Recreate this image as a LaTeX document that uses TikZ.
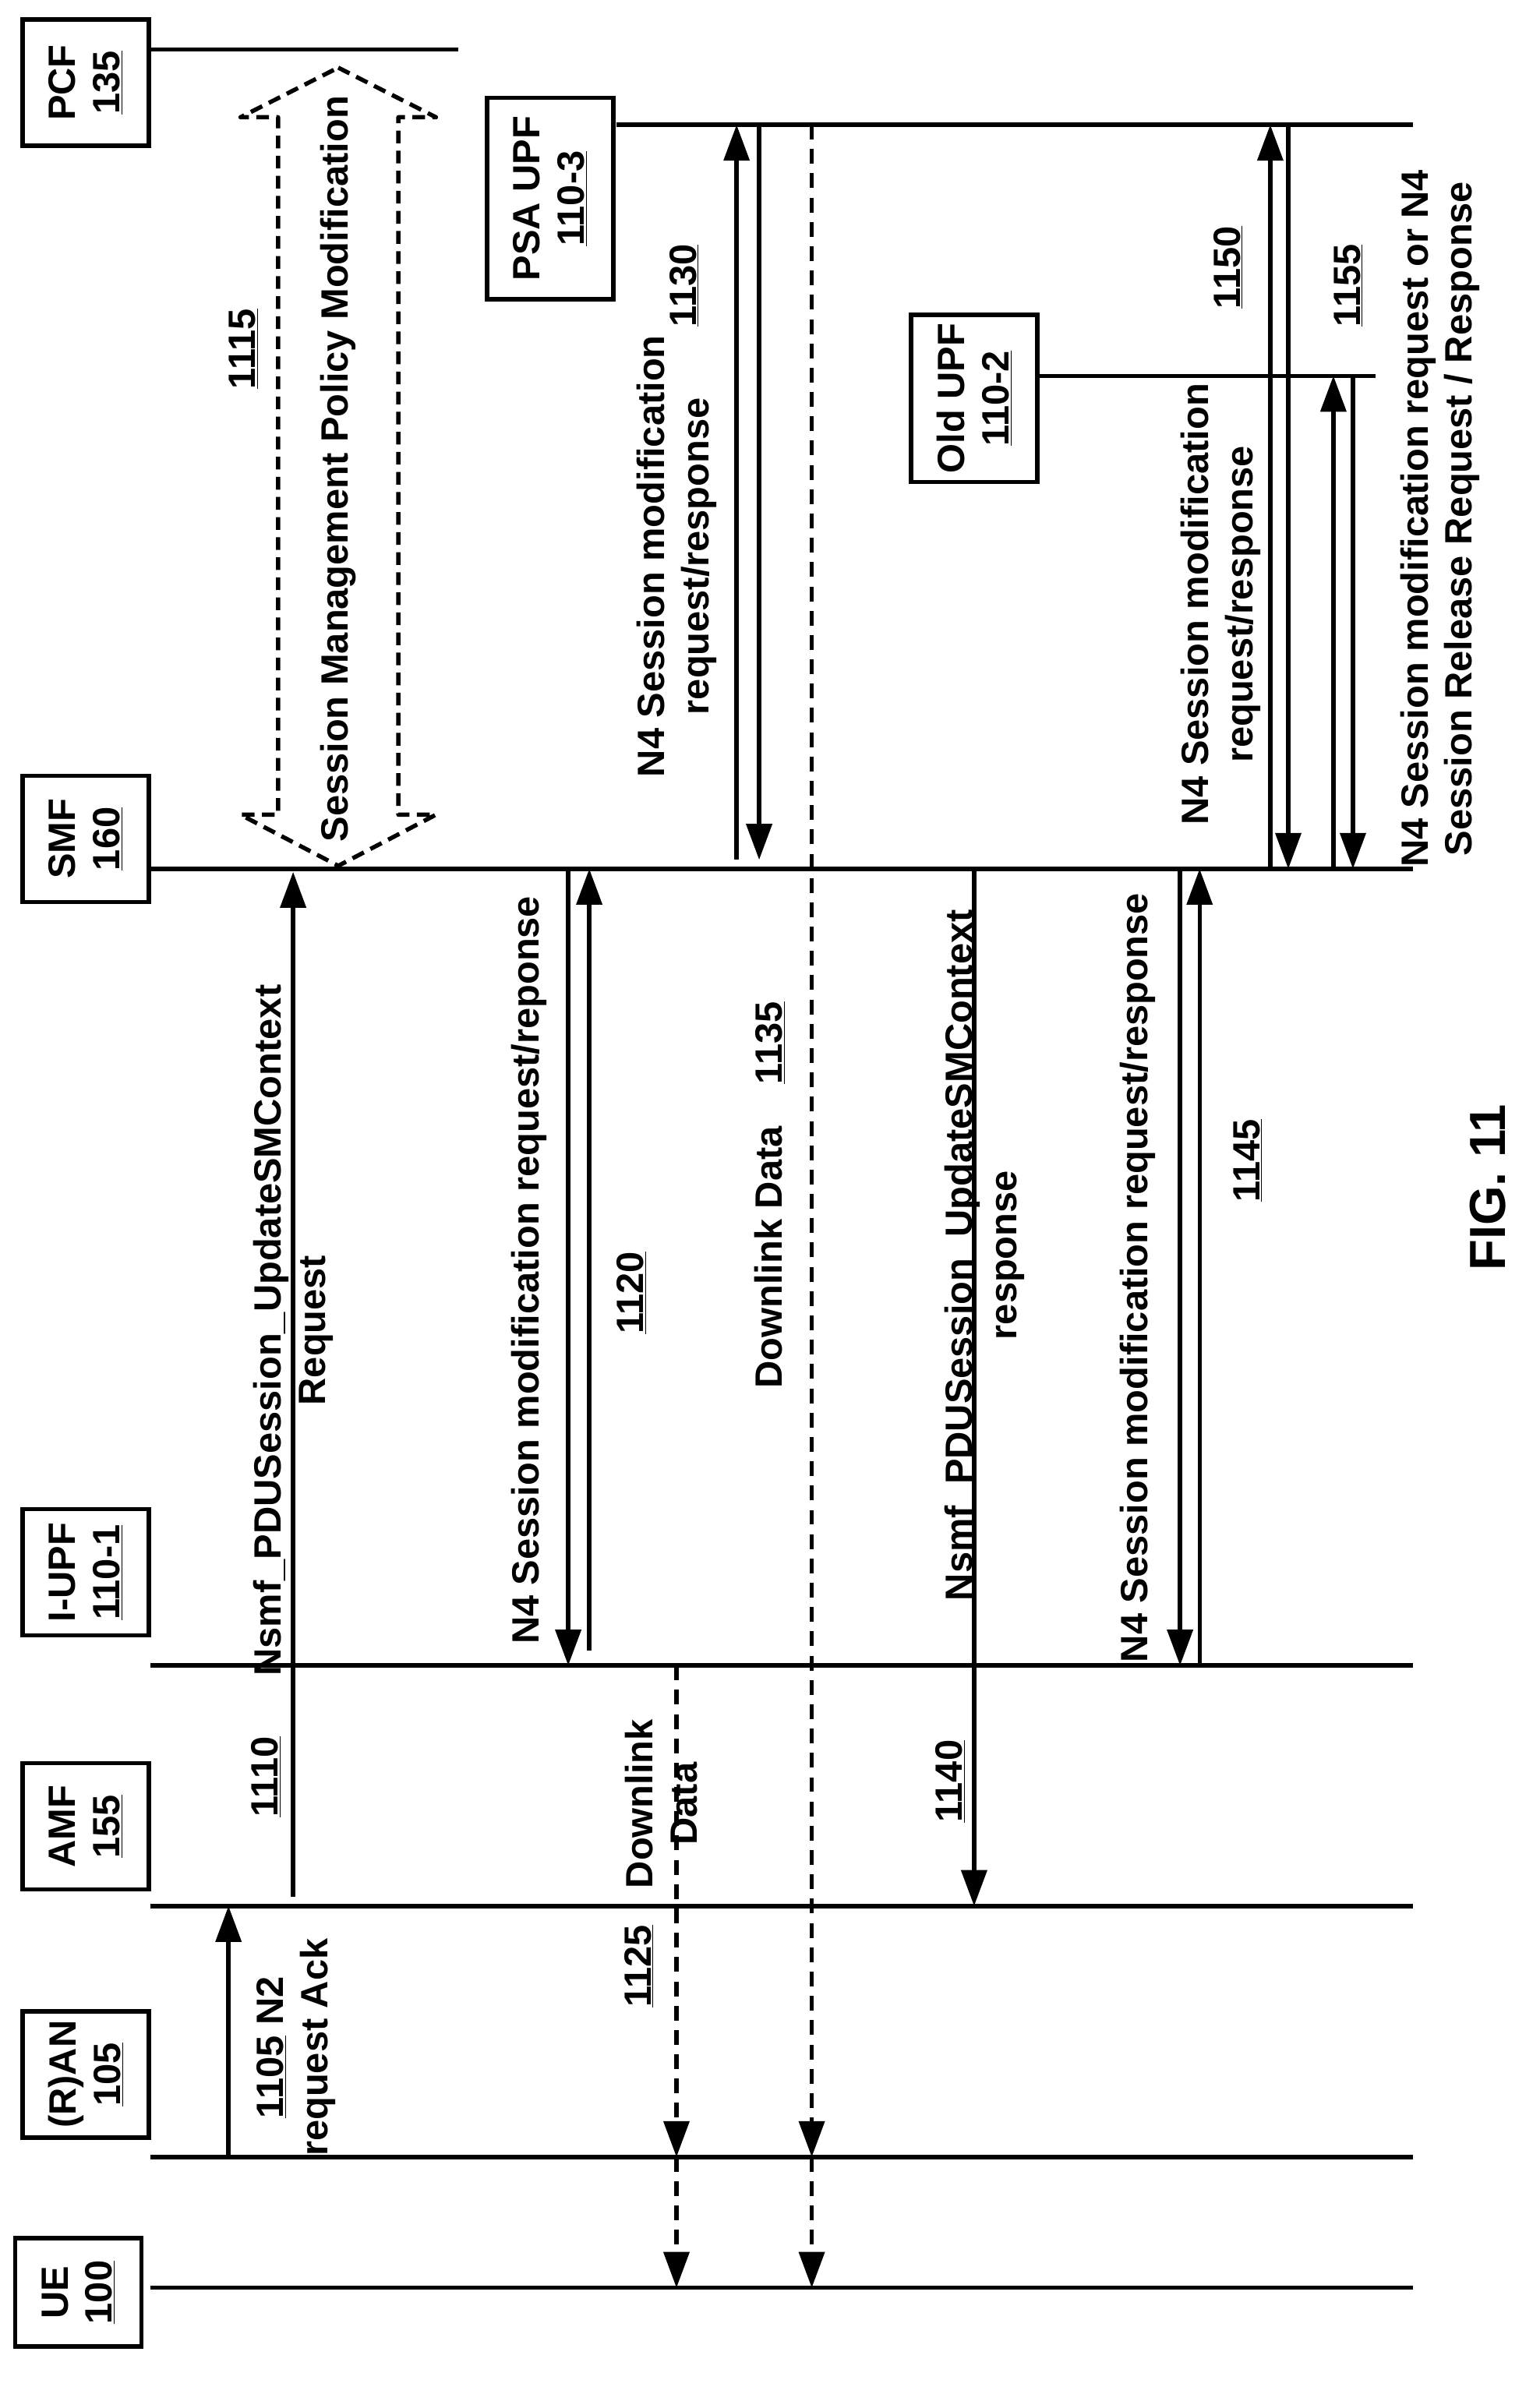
\documentclass[tikz,border=0pt]{standalone}
\usepackage{fontspec}
\setmainfont{Liberation Sans}
\usetikzlibrary{arrows.meta}
\tikzset{
  ent/.style={draw, line width=4pt, rotate=90, align=center, font=\bfseries\fontsize{36}{42}\selectfont, inner sep=8pt, minimum width=4.2cm, minimum height=4.2cm},
  life/.style={line width=4pt},
  msg/.style={line width=4pt, -{Triangle[length=34pt,width=24pt]}},
  dmsg/.style={msg, dash pattern=on 14pt off 9pt},
  lbl/.style={rotate=90, align=center, font=\bfseries\fontsize{36}{42}\selectfont},
}
\begin{document}
\begin{tikzpicture}[x=0.05cm, y=-0.05cm]
        \useasboundingbox (0,0) rectangle (1024,1588);
        % entities
        \node[ent, minimum width=3.6cm] (ue) at (52,1525) {UE\\\underline{100}};
        \node[ent] (ran) at (57,1380) {(R)AN\\\underline{105}};
        \node[ent] (amf) at (57,1215) {AMF\\\underline{155}};
        \node[ent] (iupf) at (57,1046) {I-UPF\\\underline{110-1}};
        \node[ent] (smf) at (57,558) {SMF\\\underline{160}};
        \node[ent] (pcf) at (57,55) {PCF\\\underline{135}};
        \node[ent, minimum width=6.7cm] (psa) at (366,132) {PSA UPF\\\underline{110-3}};
        \node[ent, minimum width=5.5cm] (old) at (648,265) {Old UPF\\\underline{110-2}};

        % lifelines
        \draw[life] (100,1522) -- (940,1522);
        \draw[life] (100,1435) -- (940,1435);
        \draw[life] (100,1268) -- (940,1268);
        \draw[life] (100,1108) -- (940,1108);
        \draw[life] (100,578) -- (940,578);
        \draw[life] (100,33) -- (305,33);
        \draw[life] (410,83) -- (940,83);
        \draw[life] (690,250) -- (915,250);

        % 1105
        \draw[msg] (152,1435) -- (152,1268);
        \node[lbl] at (197,1362) {\underline{1105} N2\\request Ack};
        % 1110
        \draw[msg] (195,1262) -- (195,580);
        \node[lbl] at (195,885) {Nsmf\_PDUSession\_UpdateSMContext\\Request};
        \node[lbl] at (177,1182) {\underline{1110}};
        % 1115
        \draw[line width=4pt, dash pattern=on 12pt off 7pt, line join=round]
          (225,45) -- (290,78) -- (265,78) -- (265,542) -- (290,542) -- (225,576)
          -- (160,542) -- (185,542) -- (185,78) -- (160,78) -- cycle;
        \node[lbl] at (225,312) {Session Management Policy Modification};
        \node[lbl] at (162,232) {\underline{1115}};
        % 1120
        \draw[msg] (378,578) -- (378,1108);
        \draw[msg] (392,1098) -- (392,578);
        \node[lbl] at (352,845) {N4 Session modification request/reponse};
        \node[lbl] at (420,860) {\underline{1120}};
        % 1125
        \draw[dmsg] (450,1108) -- (450,1435);
        \draw[dmsg] (450,1435) -- (450,1522);
        \node[lbl] at (440,1200) {Downlink\\Data};
        \node[lbl] at (425,1308) {\underline{1125}};
        % 1130
        \draw[msg] (490,572) -- (490,83);
        \draw[msg] (505,83) -- (505,572);
        \node[lbl] at (450,370) {N4 Session modification\\request/response};
        \node[lbl] at (455,190) {\underline{1130}};
        % 1135
        \draw[dmsg] (540,83) -- (540,1435);
        \draw[dmsg] (540,1435) -- (540,1522);
        \node[lbl] at (512,795) {Downlink Data \hspace{30pt}\underline{1135}};
        % 1140
        \draw[msg] (648,578) -- (648,1268);
        \node[lbl] at (655,835) {Nsmf\_PDUSession\_UpdateSMContext\\response};
        \node[lbl] at (632,1185) {\underline{1140}};
        % 1145
        \draw[msg] (785,578) -- (785,1108);
        \draw[msg] (798,1108) -- (798,578);
        \node[lbl] at (757,850) {N4 Session modification request/response};
        \node[lbl] at (830,772) {\underline{1145}};
        % 1150
        \draw[msg] (845,578) -- (845,83);
        \draw[msg] (857,83) -- (857,578);
        \node[lbl] at (812,402) {N4 Session modification\\request/response};
        \node[lbl] at (817,178) {\underline{1150}};
        % 1155
        \draw[msg] (887,578) -- (887,250);
        \draw[msg] (900,250) -- (900,578);
        \node[lbl] at (958,345) {N4 Session modification request or N4\\Session Release Request / Response};
        \node[lbl] at (897,190) {\underline{1155}};

        \node[lbl, font=\bfseries\fontsize{48}{52}\selectfont] (fig) at (990,790) {FIG. 11};
\end{tikzpicture}
\end{document}
